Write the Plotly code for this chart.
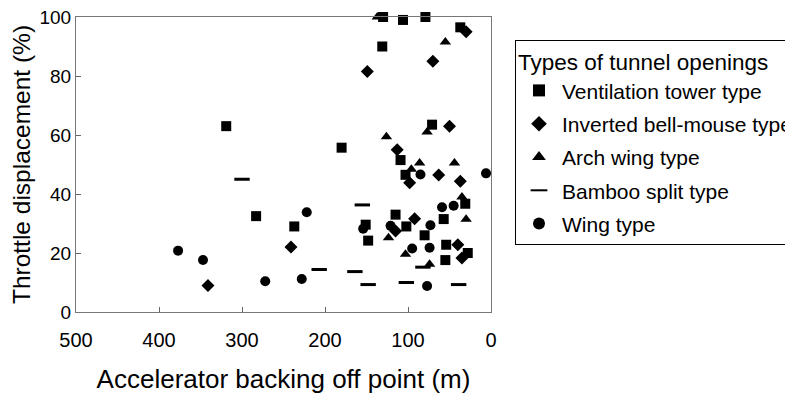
import plotly.graph_objects as go

# Ventilation tower type (squares)
vent_x = [319, 283, 237, 180, 131, 130, 106, 79, 37, 151, 148, 115, 109, 103, 102, 80, 71, 57, 31, 54, 55, 28]
vent_y = [63, 32.5, 29, 55.7, 90, 100, 99, 100, 96.5, 29.6, 24.2, 33, 51.5, 46.5, 29, 26, 63.5, 31.5, 36.7, 22.8, 17.6, 20]

# Inverted bell-mouse type (diamonds)
bell_x = [341, 241, 149, 70, 30, 113, 50, 63, 98, 37, 115, 92, 40, 35]
bell_y = [9, 22, 81.5, 85, 95, 55, 63, 46.4, 43.8, 44.3, 27.5, 31.6, 22.8, 18.3]

# Arch wing type (triangles)
arch_x = [137, 55, 77, 126, 86, 44, 96, 123.5, 103, 74, 35, 30]
arch_y = [100, 91.5, 61, 59.4, 50.5, 50.5, 48.4, 25.2, 19.6, 16.2, 39, 31.4]

# Bamboo split type (dashes)
bamboo_x = [300, 155, 207, 164, 148, 102, 82, 39]
bamboo_y = [45, 36.3, 14.4, 13.7, 9.3, 10, 15.2, 9.3]

# Wing type (circles)
wing_x = [377, 347, 272, 228, 222, 154, 121, 85, 6, 73, 59, 45, 95, 74, 77]
wing_y = [20.8, 17.6, 10.4, 11.2, 33.8, 28.2, 29.2, 46.6, 47, 29.4, 35.5, 36, 21.5, 21.8, 8.8]

x_ticks = [500, 400, 300, 200, 100, 0]
y_ticks = [0, 20, 40, 60, 80, 100]

series = [
    ("Ventilation tower type", vent_x, vent_y, "square", 10),
    ("Inverted bell-mouse type", bell_x, bell_y, "diamond", 10),
    ("Arch wing type", arch_x, arch_y, "triangle-up", 10),
    ("Bamboo split type", bamboo_x, bamboo_y, "line-ew", 11),
    ("Wing type", wing_x, wing_y, "circle", 10),
]

fig = go.Figure()
for i, (name, xs, ys, sym, sz) in enumerate(series):
    marker = dict(symbol=sym, size=sz, color="black")
    if sym == "line-ew":
        marker["line"] = dict(color="black", width=3)
    fig.add_trace(go.Scatter(
        x=xs, y=ys, mode="markers", name=name, marker=marker,
        cliponaxis=False, legendgroup=f"g{i}",
    ))

font_family = "Liberation Sans, Arial, sans-serif"
fig.update_layout(
    width=793, height=394,
    paper_bgcolor="white", plot_bgcolor="white",
    margin=dict(l=68, r=310, t=9, b=90, autoexpand=False),
    font=dict(family=font_family, color="black", size=20),
    showlegend=True,
    legend=dict(
        title=dict(text="Types of tunnel openings", font=dict(size=22.5)),
        xref="container", yref="container",
        x=507 / 793, y=1 - 32 / 394, xanchor="left", yanchor="top",
        bordercolor="black", borderwidth=1, bgcolor="white",
        font=dict(size=21), tracegroupgap=3, maxheight=1000,
        itemsizing="constant", itemwidth=36,
    ),
    xaxis=dict(
        range=[500, 0], tickvals=x_ticks, ticks="inside", ticklen=5,
        tickcolor="#666", showline=True, linecolor="#777", linewidth=1,
        mirror=True, showgrid=False, zeroline=False,
        tickfont=dict(size=20), ticklabelstandoff=10,
        ticklabeloverflow="allow",
        title=dict(text="Accelerator backing off point (m)", font=dict(size=26), standoff=19),
    ),
    yaxis=dict(
        range=[0, 100], tickvals=y_ticks, ticks="inside", ticklen=5,
        tickcolor="#666", showline=True, linecolor="#777", linewidth=1,
        mirror=True, showgrid=False, zeroline=False,
        tickfont=dict(size=19), ticklabeloverflow="allow",
        title=dict(text="Throttle displacement (%)", font=dict(size=24.5), standoff=18),
    ),
)

fig.write_html("out.html")
